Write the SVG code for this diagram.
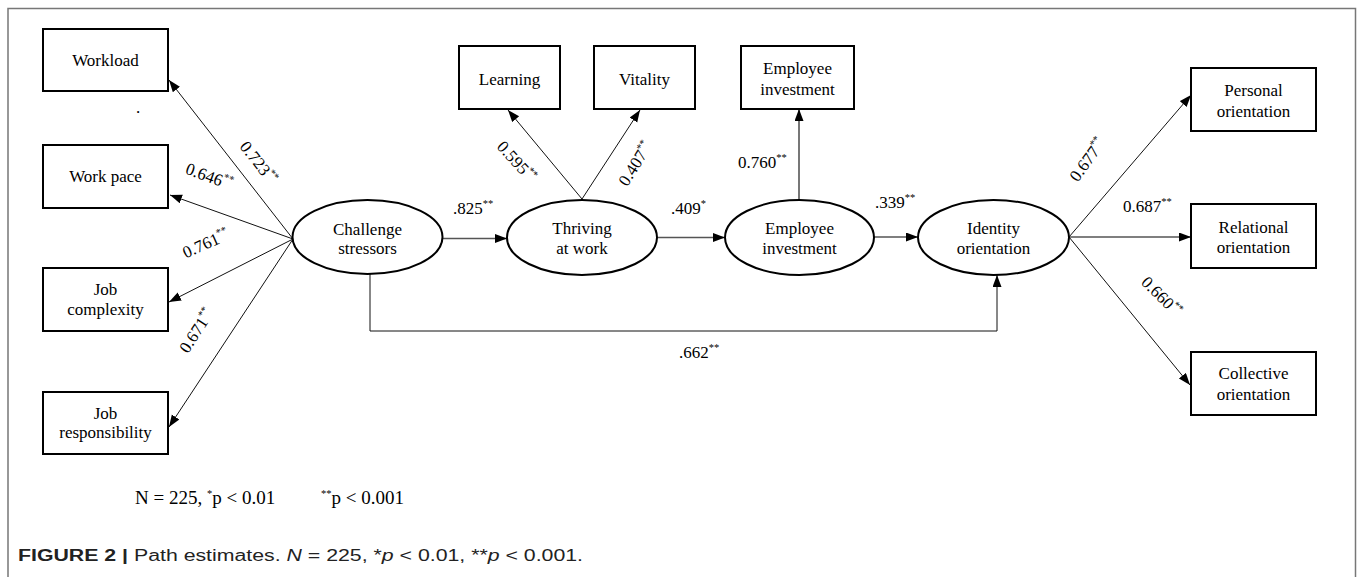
<svg xmlns="http://www.w3.org/2000/svg" width="1357" height="577" viewBox="0 0 1357 577">
<defs>
<marker id="ah" markerUnits="userSpaceOnUse" markerWidth="13" markerHeight="10" refX="12" refY="4.5" orient="auto">
<path d="M0,0 L12,4.5 L0,9 z" fill="#000"/>
</marker>
<style>
.box{fill:#fff;stroke:#000;stroke-width:2}
.ell{fill:#fff;stroke:#000;stroke-width:2}
.t{font-family:"Liberation Serif","Times New Roman",serif;font-size:17px;fill:#000;text-anchor:middle}
.lb{font-family:"Liberation Serif","Times New Roman",serif;font-size:17px;fill:#000}
.sup{font-size:10.5px}
.ln{fill:none;stroke:#111;stroke-width:1}
.hz{fill:none;stroke:#555;stroke-width:1.6}
.cap{font-family:"Liberation Sans",Arial,sans-serif;font-size:16px;fill:#222}
</style>
</defs>
<rect width="1357" height="577" fill="#fff"/>
<path d="M8,580 V8.5 H1355.5 V580" fill="none" stroke="#777" stroke-width="1.5"/>

<g id="connectors">
<line class="ln" x1="293" y1="239" x2="169" y2="80" marker-end="url(#ah)"/>
<line class="ln" x1="293" y1="239" x2="170" y2="195" marker-end="url(#ah)"/>
<line class="ln" x1="293" y1="239" x2="169" y2="302" marker-end="url(#ah)"/>
<line class="ln" x1="293" y1="239" x2="169" y2="427" marker-end="url(#ah)"/>
<line class="hz" x1="443" y1="238.5" x2="507" y2="238.5" marker-end="url(#ah)"/>
<line class="hz" x1="657" y1="237.5" x2="725" y2="237.5" marker-end="url(#ah)"/>
<line class="hz" x1="874" y1="237" x2="918" y2="237" marker-end="url(#ah)"/>
<line class="ln" x1="582" y1="199" x2="508" y2="110" marker-end="url(#ah)"/>
<line class="ln" x1="582" y1="199" x2="640" y2="110" marker-end="url(#ah)"/>
<line class="hz" x1="799" y1="200" x2="799" y2="109" marker-end="url(#ah)"/>
<line class="ln" x1="1069" y1="237" x2="1191" y2="95" marker-end="url(#ah)"/>
<line class="hz" x1="1069" y1="237" x2="1191" y2="237" marker-end="url(#ah)"/>
<line class="ln" x1="1069" y1="237" x2="1190" y2="385" marker-end="url(#ah)"/>
<path class="ln" d="M370,274 V331 H997 V275" marker-end="url(#ah)"/>
</g>

<g id="labels">
<text class="t" transform="translate(258,163) rotate(52)" y="5">0.723<tspan class="sup" dy="-7">**</tspan></text>
<text class="t" transform="translate(209,177) rotate(20)" y="5">0.646<tspan class="sup" dy="-7">**</tspan></text>
<text class="t" transform="translate(206,244) rotate(-24)" y="5">0.761<tspan class="sup" dy="-7">**</tspan></text>
<text class="t" transform="translate(197,331) rotate(-57)" y="5">0.671<tspan class="sup" dy="-7">**</tspan></text>
<text class="t" transform="translate(516,162) rotate(48)" y="5">0.595<tspan class="sup" dy="-7">**</tspan></text>
<text class="t" transform="translate(636,164) rotate(-58)" y="5">0.407<tspan class="sup" dy="-7">**</tspan></text>
<text class="t" transform="translate(1088,160) rotate(-54)" y="5">0.677<tspan class="sup" dy="-7">**</tspan></text>
<text class="t" transform="translate(1161,297) rotate(45)" y="5">0.660<tspan class="sup" dy="-7">**</tspan></text>
<text class="lb" x="453" y="214">.825<tspan class="sup" dy="-7">**</tspan></text>
<text class="lb" x="671" y="214">.409<tspan class="sup" dy="-7">*</tspan></text>
<text class="lb" x="875" y="208">.339<tspan class="sup" dy="-7">**</tspan></text>
<text class="lb" x="738" y="168">0.760<tspan class="sup" dy="-7">**</tspan></text>
<text class="lb" x="1123" y="212">0.687<tspan class="sup" dy="-7">**</tspan></text>
<text class="lb" x="679" y="358">.662<tspan class="sup" dy="-7">**</tspan></text>
<text class="lb" x="136" y="113">.</text>
</g>

<g id="workload"><rect class="box" x="43" y="29" width="125" height="62"/><text class="t" x="105.5" y="66">Workload</text></g>
<g id="work-pace"><rect class="box" x="43" y="145" width="125" height="63"/><text class="t" x="105.5" y="182">Work pace</text></g>
<g id="job-complexity"><rect class="box" x="43" y="268" width="125" height="63"/><text class="t" x="105.5" y="295">Job</text><text class="t" x="105.5" y="315">complexity</text></g>
<g id="job-responsibility"><rect class="box" x="43" y="392" width="125" height="62"/><text class="t" x="105.5" y="419">Job</text><text class="t" x="105.5" y="438">responsibility</text></g>

<g id="challenge-stressors"><ellipse class="ell" cx="367.5" cy="237" rx="75" ry="37"/><text class="t" x="367.5" y="235">Challenge</text><text class="t" x="367.5" y="254">stressors</text></g>
<g id="thriving"><ellipse class="ell" cx="582" cy="237.5" rx="75" ry="37.5"/><text class="t" x="582" y="234">Thriving</text><text class="t" x="582" y="254">at work</text></g>
<g id="employee-investment"><ellipse class="ell" cx="799.5" cy="237.5" rx="74.5" ry="37.5"/><text class="t" x="799.5" y="234">Employee</text><text class="t" x="799.5" y="254">investment</text></g>
<g id="identity-orientation"><ellipse class="ell" cx="993.5" cy="237.5" rx="75.5" ry="37.5"/><text class="t" x="993.5" y="234">Identity</text><text class="t" x="993.5" y="254">orientation</text></g>

<g id="learning"><rect class="box" x="459" y="46" width="101" height="63"/><text class="t" x="509.5" y="85">Learning</text></g>
<g id="vitality"><rect class="box" x="594" y="46" width="101" height="63"/><text class="t" x="644.5" y="85">Vitality</text></g>
<g id="employee-investment-box"><rect class="box" x="741" y="46" width="113" height="63"/><text class="t" x="797.5" y="74">Employee</text><text class="t" x="797.5" y="95">investment</text></g>

<g id="personal-orientation"><rect class="box" x="1191" y="68" width="125" height="63"/><text class="t" x="1253.5" y="96">Personal</text><text class="t" x="1253.5" y="117">orientation</text></g>
<g id="relational-orientation"><rect class="box" x="1191" y="204" width="125" height="64"/><text class="t" x="1253.5" y="233">Relational</text><text class="t" x="1253.5" y="253">orientation</text></g>
<g id="collective-orientation"><rect class="box" x="1191" y="352" width="125" height="63"/><text class="t" x="1253.5" y="379">Collective</text><text class="t" x="1253.5" y="400">orientation</text></g>

<g id="note">
<text class="lb" x="135" y="504" style="font-size:19px">N = 225, <tspan class="sup" dy="-7">*</tspan><tspan dy="7">p &lt; 0.01</tspan></text>
<text class="lb" x="321" y="504" style="font-size:19px"><tspan class="sup" dy="-7">**</tspan><tspan dy="7">p &lt; 0.001</tspan></text>
</g>
<g id="caption">
<text class="cap" x="18" y="561" textLength="565" lengthAdjust="spacingAndGlyphs"><tspan font-weight="bold">FIGURE 2 |</tspan> Path estimates. <tspan font-style="italic">N</tspan> = 225, *<tspan font-style="italic">p</tspan> &lt; 0.01, **<tspan font-style="italic">p</tspan> &lt; 0.001.</text>
</g>
</svg>
